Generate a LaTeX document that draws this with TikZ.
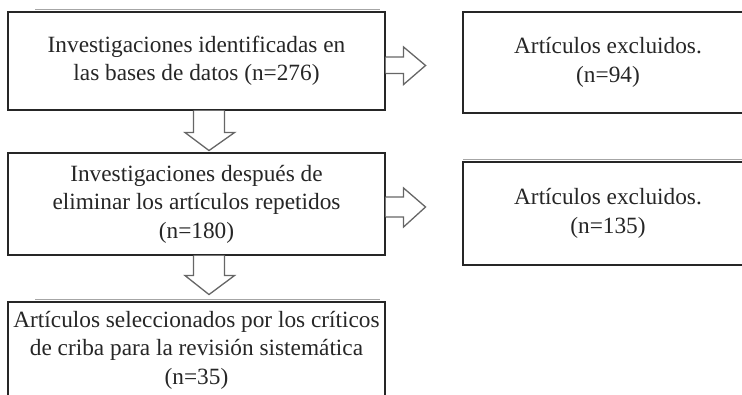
\documentclass[tikz,border=0pt]{standalone}
\usepackage{fontspec}
\setmainfont{Liberation Serif}
\usetikzlibrary{calc}
\begin{document}
\begin{tikzpicture}[x=1pt,y=-1pt,
  box/.style={draw=black!85,line width=1.1pt,fill=white,align=center,inner sep=0pt,
    font=\fontsize{23.3}{28.5}\selectfont,text=black!85},
  barrow/.style={draw=black!60,line width=1.3pt,line join=miter,fill=white},
  shade/.style={draw=black!35,line width=1.4pt}]
\useasboundingbox (0,0) rectangle (742,395);
\clip (0,0) rectangle (742,395);
% faint shadow lines above boxes
\draw[shade] (35,9.5) -- (380,9.5);
\draw[shade] (35,299.8) -- (380,299.8);
\draw[shade] (463,159.8) -- (742,159.8);
% boxes
\node[box,minimum width=377pt,minimum height=98pt] (b1) at (196.5,61)
  {Investigaciones identificadas en\\las bases de datos (n=276)};
\node[box,minimum width=377pt,minimum height=102pt] (b2) at (196.5,204)
  {Investigaciones después de\\eliminar los artículos repetidos\\(n=180)};
\node[box,minimum width=377pt,minimum height=96pt] (b3) at (196.5,350)
  {Artículos seleccionados por los críticos\\de criba para la revisión sistemática\\(n=35)};
\node[box,minimum width=290pt,minimum height=101pt] (b4) at (608,62.5)
  {Artículos excluidos.\\(n=94)};
\node[box,minimum width=290pt,minimum height=103pt] (b5) at (608,213.5)
  {Artículos excluidos.\\(n=135)};
% right block arrows
\coordinate (r1) at ($(b1.east)+(0,4.5)$);
\draw[barrow] ($(r1)+(0,-8.5)$) -- ++(18,0) -- ++(0,-10) -- ($(r1)+(40,0)$)
  -- ($(r1)+(18,19)$) -- ++(0,-11) -- ($(r1)+(0,8)$);
\coordinate (r2) at ($(b2.east)+(0,3)$);
\draw[barrow] ($(r2)+(0,-10)$) -- ++(18,0) -- ++(0,-9) -- ($(r2)+(40,0)$)
  -- ($(r2)+(18,20)$) -- ++(0,-10) -- ($(r2)+(0,10)$);
% down block arrows
\coordinate (d1) at ($(b1.south)+(12.5,0)$);
\draw[barrow] ($(d1)+(-15.5,0)$) -- ++(0,22) -- ++(-8.5,0) -- ($(d1)+(0,40)$)
  -- ($(d1)+(25.5,22)$) -- ++(-10,0) -- ($(d1)+(15.5,0)$);
\coordinate (d2) at ($(b2.south)+(12.5,0)$);
\draw[barrow] ($(d2)+(-15.5,0)$) -- ++(0,20) -- ++(-8.5,0) -- ($(d2)+(0,39)$)
  -- ($(d2)+(25.5,20)$) -- ++(-10,0) -- ($(d2)+(15.5,0)$);
\end{tikzpicture}
\end{document}
